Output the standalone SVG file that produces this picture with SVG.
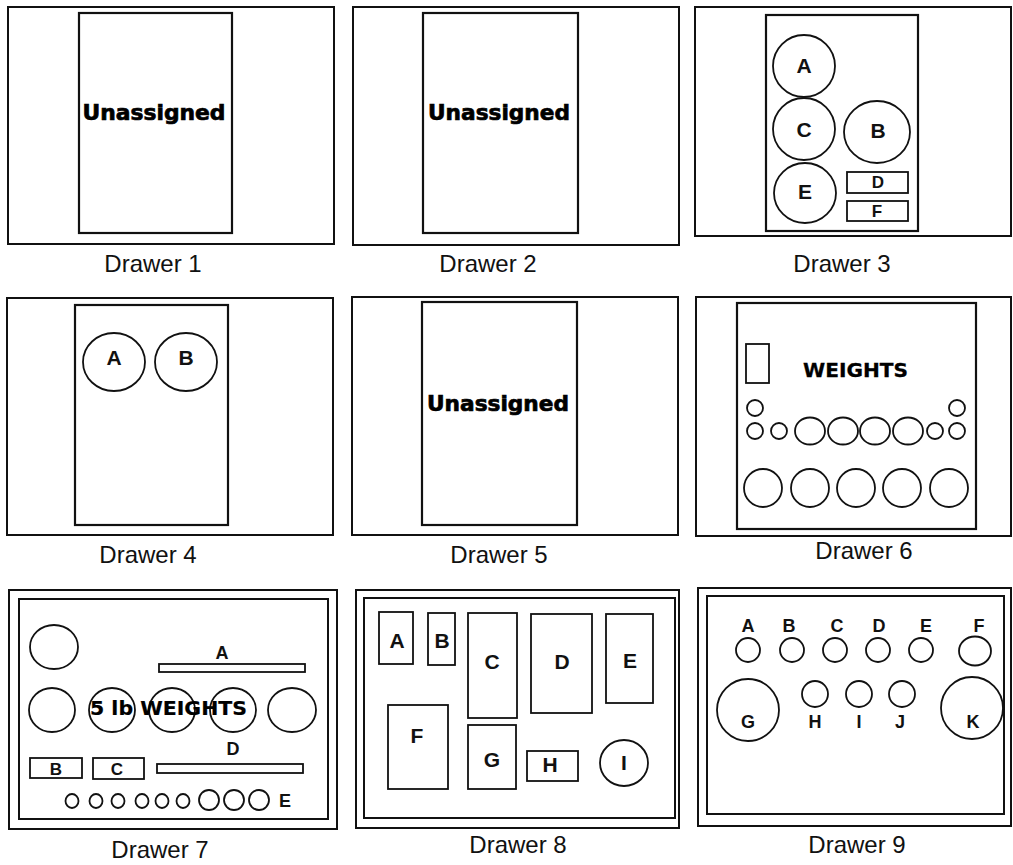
<svg xmlns="http://www.w3.org/2000/svg" width="1013" height="865" viewBox="0 0 1013 865">
<style>
.bg{fill:#ffffff}
.frame{fill:none;stroke:#111;stroke-width:2}
.inner{fill:none;stroke:#111;stroke-width:2.2}
.sh{fill:none;stroke:#111;stroke-width:1.8}
.cap{font-family:"Liberation Sans",Arial,sans-serif;font-size:24px;fill:#111;text-anchor:middle}
.big{font-family:"DejaVu Sans",sans-serif;font-weight:bold;font-size:21px;fill:#000;text-anchor:middle;stroke:#000;stroke-width:0.7}
.lbl{font-family:"Liberation Sans",Arial,sans-serif;font-weight:bold;font-size:21px;fill:#111;text-anchor:middle}
.lbs{font-family:"Liberation Sans",Arial,sans-serif;font-weight:bold;font-size:17px;fill:#111;text-anchor:middle}
.lbm{font-family:"Liberation Sans",Arial,sans-serif;font-weight:bold;font-size:18px;fill:#111;text-anchor:middle}
</style>
<rect class="bg" x="0" y="0" width="1013" height="865"/>
<g id="connectors"/>

<g id="drawer1">
<rect class="frame" x="8" y="7" width="326" height="237"/>
<rect class="inner" x="79" y="13" width="153" height="220"/>
<text class="big" x="154" y="120" textLength="143" lengthAdjust="spacingAndGlyphs">Unassigned</text>
<text class="cap" x="153" y="272">Drawer 1</text>
</g>

<g id="drawer2">
<rect class="frame" x="353" y="7" width="326" height="238"/>
<rect class="inner" x="423" y="13" width="155" height="220"/>
<text class="big" x="499" y="120" textLength="142" lengthAdjust="spacingAndGlyphs">Unassigned</text>
<text class="cap" x="488" y="272">Drawer 2</text>
</g>

<g id="drawer3">
<rect class="frame" x="695" y="7" width="316" height="229"/>
<rect class="inner" x="766" y="15" width="152" height="216"/>
<circle class="sh" cx="804" cy="66" r="31"/>
<circle class="sh" cx="804" cy="129" r="31"/>
<ellipse class="sh" cx="877" cy="132" rx="33" ry="31"/>
<ellipse class="sh" cx="805" cy="193" rx="31" ry="30"/>
<rect class="sh" x="847" y="172" width="61" height="21"/>
<rect class="sh" x="847" y="201" width="61" height="20"/>
<text class="lbl" x="804" y="73">A</text>
<text class="lbl" x="804" y="137">C</text>
<text class="lbl" x="878" y="138">B</text>
<text class="lbl" x="805" y="199">E</text>
<text class="lbs" x="878" y="188">D</text>
<text class="lbs" x="877" y="217">F</text>
<text class="cap" x="842" y="272">Drawer 3</text>
</g>

<g id="drawer4">
<rect class="frame" x="7" y="298" width="326" height="237"/>
<rect class="inner" x="75" y="305" width="153" height="220"/>
<ellipse class="sh" cx="114" cy="362" rx="31" ry="29"/>
<ellipse class="sh" cx="186" cy="362" rx="31" ry="29"/>
<text class="lbl" x="114" y="365">A</text>
<text class="lbl" x="186" y="365">B</text>
<text class="cap" x="148" y="563">Drawer 4</text>
</g>

<g id="drawer5">
<rect class="frame" x="352" y="297" width="326" height="238"/>
<rect class="inner" x="422" y="302" width="155" height="223"/>
<text class="big" x="498" y="411" textLength="142" lengthAdjust="spacingAndGlyphs">Unassigned</text>
<text class="cap" x="499" y="563">Drawer 5</text>
</g>

<g id="drawer6">
<rect class="frame" x="696" y="297" width="315" height="239"/>
<rect class="inner" x="737" y="303" width="239" height="226"/>
<rect class="sh" x="746" y="344" width="23" height="39"/>
<text class="big" x="855.5" y="377" textLength="105" lengthAdjust="spacingAndGlyphs" style="stroke-width:0.3;font-size:20px">WEIGHTS</text>
<circle class="sh" cx="755" cy="408" r="8"/>
<circle class="sh" cx="957" cy="408" r="8"/>
<circle class="sh" cx="755" cy="431" r="8"/>
<circle class="sh" cx="779" cy="431" r="8"/>
<ellipse class="sh" cx="810" cy="431" rx="15" ry="13.5"/>
<ellipse class="sh" cx="843" cy="431" rx="15" ry="13.5"/>
<ellipse class="sh" cx="875" cy="431" rx="15" ry="13.5"/>
<ellipse class="sh" cx="908" cy="431" rx="15" ry="13.5"/>
<circle class="sh" cx="935" cy="431" r="8"/>
<circle class="sh" cx="957" cy="431" r="8"/>
<circle class="sh" cx="763" cy="488" r="19"/>
<circle class="sh" cx="810" cy="488" r="19"/>
<circle class="sh" cx="856" cy="488" r="19"/>
<circle class="sh" cx="902" cy="488" r="19"/>
<circle class="sh" cx="949" cy="488" r="19"/>
<text class="cap" x="864" y="559">Drawer 6</text>
</g>

<g id="drawer7">
<rect class="frame" x="9" y="590" width="328" height="239"/>
<rect class="frame" x="19" y="599" width="309" height="220"/>
<ellipse class="sh" cx="54" cy="647" rx="24" ry="22"/>
<ellipse class="sh" cx="52" cy="710" rx="23" ry="22"/>
<ellipse class="sh" cx="112" cy="710" rx="23" ry="22"/>
<ellipse class="sh" cx="172" cy="710" rx="23" ry="22"/>
<ellipse class="sh" cx="233" cy="710" rx="23" ry="22"/>
<ellipse class="sh" cx="292" cy="710" rx="24" ry="22"/>
<text class="big" x="168.5" y="715" textLength="157" lengthAdjust="spacingAndGlyphs" style="stroke-width:0.2;font-size:20px">5 lb WEIGHTS</text>
<rect class="sh" x="159" y="664" width="146" height="8"/>
<text class="lbm" x="222" y="659">A</text>
<rect class="sh" x="157" y="764" width="146" height="9"/>
<text class="lbm" x="233" y="755">D</text>
<rect class="sh" x="30" y="758" width="52" height="20"/>
<text class="lbs" x="56" y="775">B</text>
<rect class="sh" x="93" y="758" width="51" height="21"/>
<text class="lbs" x="117" y="775">C</text>
<ellipse class="sh" cx="72" cy="801" rx="6.5" ry="7"/>
<ellipse class="sh" cx="96" cy="801" rx="6.5" ry="7"/>
<ellipse class="sh" cx="118" cy="801" rx="6.5" ry="7"/>
<ellipse class="sh" cx="142" cy="801" rx="6.5" ry="7"/>
<ellipse class="sh" cx="162" cy="801" rx="6.5" ry="7"/>
<ellipse class="sh" cx="183" cy="801" rx="6.5" ry="7"/>
<circle class="sh" cx="209" cy="800" r="10"/>
<circle class="sh" cx="234" cy="800" r="10"/>
<circle class="sh" cx="259" cy="800" r="10"/>
<text class="lbm" x="285" y="807">E</text>
<text class="cap" x="160" y="858">Drawer 7</text>
</g>

<g id="drawer8">
<rect class="frame" x="356" y="590" width="323" height="238"/>
<rect class="frame" x="364" y="598" width="311" height="220"/>
<rect class="sh" x="379" y="612" width="34" height="52"/>
<text class="lbl" x="397" y="648">A</text>
<rect class="sh" x="428" y="613" width="27" height="52"/>
<text class="lbl" x="442" y="648">B</text>
<rect class="sh" x="468" y="613" width="49" height="105"/>
<text class="lbl" x="492" y="669">C</text>
<rect class="sh" x="531" y="614" width="61" height="99"/>
<text class="lbl" x="562" y="669">D</text>
<rect class="sh" x="606" y="614" width="47" height="89"/>
<text class="lbl" x="630" y="668">E</text>
<rect class="sh" x="388" y="705" width="60" height="84"/>
<text class="lbl" x="417" y="743">F</text>
<rect class="sh" x="468" y="725" width="48" height="64"/>
<text class="lbl" x="492" y="767">G</text>
<rect class="sh" x="527" y="751" width="51" height="30"/>
<text class="lbl" x="550" y="772">H</text>
<ellipse class="sh" cx="624" cy="763" rx="24" ry="23"/>
<text class="lbl" x="624" y="770">I</text>
<text class="cap" x="518" y="853">Drawer 8</text>
</g>

<g id="drawer9">
<rect class="frame" x="698" y="588" width="313" height="238"/>
<rect class="frame" x="707" y="596" width="297" height="218"/>
<circle class="sh" cx="748" cy="650" r="12"/>
<circle class="sh" cx="792" cy="650" r="12"/>
<circle class="sh" cx="835" cy="650" r="12"/>
<circle class="sh" cx="878" cy="650" r="12"/>
<circle class="sh" cx="921" cy="650" r="12"/>
<ellipse class="sh" cx="975" cy="651" rx="16" ry="14.5"/>
<text class="lbm" x="748" y="632">A</text>
<text class="lbm" x="789" y="632">B</text>
<text class="lbm" x="837" y="632">C</text>
<text class="lbm" x="879" y="632">D</text>
<text class="lbm" x="926" y="632">E</text>
<text class="lbm" x="979" y="632">F</text>
<circle class="sh" cx="748" cy="710" r="31"/>
<text class="lbm" x="748" y="728">G</text>
<circle class="sh" cx="972" cy="708" r="31"/>
<text class="lbm" x="973" y="728">K</text>
<circle class="sh" cx="815" cy="694" r="13"/>
<circle class="sh" cx="859" cy="694" r="13"/>
<circle class="sh" cx="902" cy="694" r="13"/>
<text class="lbm" x="815" y="728">H</text>
<text class="lbm" x="859" y="728">I</text>
<text class="lbm" x="900" y="728">J</text>
<text class="cap" x="857" y="853">Drawer 9</text>
</g>
</svg>
